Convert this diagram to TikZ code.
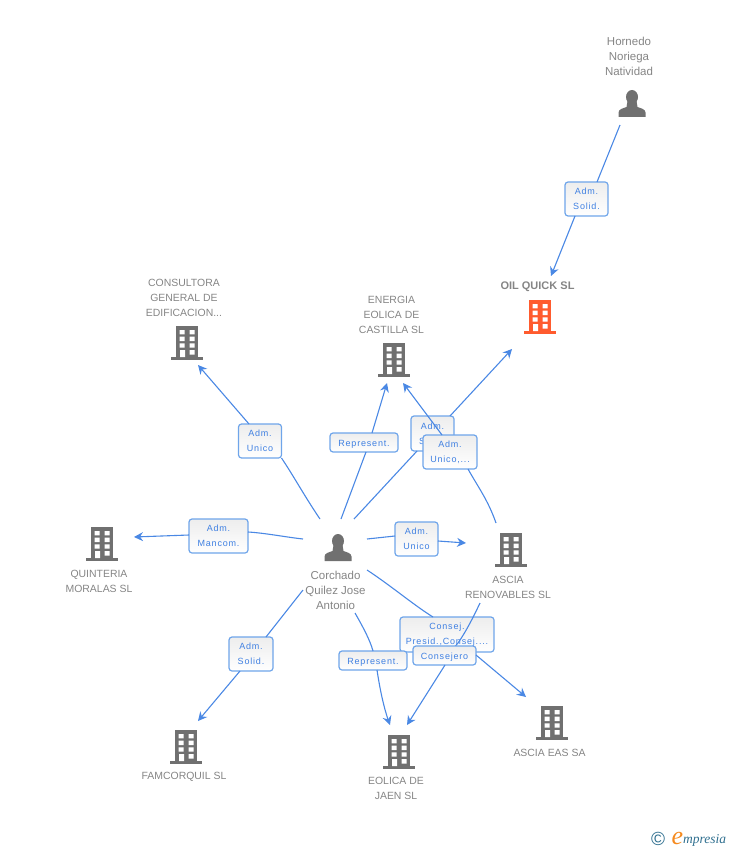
\documentclass[tikz,border=0pt]{standalone}
\usepackage{fontspec}
\setmainfont{Liberation Sans}
\newfontfamily\lblfont[LetterSpace=9]{Liberation Sans}
\newfontfamily\namefont{Liberation Sans}
\newfontfamily\logofont{Liberation Serif}
\usetikzlibrary{arrows.meta}
\definecolor{edgeblue}{HTML}{4A88E4}
\definecolor{boxblue}{HTML}{6FA5EA}
\definecolor{lbltext}{HTML}{3F80E2}
\definecolor{nametext}{HTML}{858585}
\definecolor{iconGrey}{HTML}{707070}
\definecolor{iconRed}{HTML}{FF5B2E}
\definecolor{logoTeal}{HTML}{2F6F8F}
\definecolor{logoOrange}{HTML}{F58A1F}
\tikzset{
  conn/.style={draw=edgeblue,line width=1.1pt},
  connarrow/.style={conn,-{Stealth[length=9pt,width=9pt,inset=3pt]}},
  lbl/.style={draw=boxblue,line width=1.2pt,rounded corners=3pt,top color=white!93!black,bottom color=white,
    text=lbltext,font=\lblfont\fontsize{9}{15}\selectfont,align=center,inner sep=0pt,outer sep=0pt,
    execute at begin node={\rule{0pt}{9pt}}},
  entname/.style={text=nametext,font=\namefont\fontsize{10.45}{15}\selectfont,align=center,inner sep=0pt},
  mixname/.style={text=nametext,font=\namefont\fontsize{11.5}{15}\selectfont,align=center,inner sep=0pt},
  pics/building/.style={code={
    \fill[#1] (-11,-34) rectangle (11,-3);
    \fill[#1] (-16,-3) rectangle (16,0);
    \fill[white] (-7.3,-30) rectangle (-2.3,-25.7) (2.7,-30) rectangle (7.7,-25.7)
      (-7.3,-23.5) rectangle (-2.3,-19) (2.7,-23.5) rectangle (7.7,-19)
      (-7.3,-16.7) rectangle (-2.3,-12.3) (2.7,-16.7) rectangle (7.7,-12.3)
      (2.7,-10) rectangle (7.7,-5.5) (-7,-10) rectangle (-2,-3);
  }},
  pics/person/.style={code={
    \fill[iconGrey] (0,-20) ellipse (6 and 7);
    \fill[iconGrey] (-13.5,0) -- (-13.5,-4.5) .. controls (-13.5,-8) and (-8,-9) .. (-5.5,-10)
      -- (-4.5,-16) -- (4.5,-16) -- (5.5,-10) .. controls (8,-9) and (13.5,-8) .. (13.5,-4.5) -- (13.5,0) -- cycle;
  }}
}
\begin{document}
\begin{tikzpicture}[x=1pt,y=-1pt]
\useasboundingbox (0,0) rectangle (728,850);
% icons
\pic (iHornedo) at (632,117) {person};
\pic (iCorchado) at (338,561) {person};
\pic (iOil) at (540,334) {building=iconRed};
\pic (iConsultora) at (187,360) {building=iconGrey};
\pic (iEnergia) at (394,377) {building=iconGrey};
\pic (iQuinteria) at (102,561) {building=iconGrey};
\pic (iAscia) at (511,567) {building=iconGrey};
\pic (iFamcorquil) at (186,764) {building=iconGrey};
\pic (iEolica) at (399,769) {building=iconGrey};
\pic (iEas) at (552,740) {building=iconGrey};
% names
\node[mixname] (nHornedo) at (629,56) {Hornedo\\Noriega\\Natividad};
\node[entname,font=\namefont\bfseries\fontsize{11}{15}\selectfont] (nOil) at (537.5,287) {OIL QUICK SL};
\node[entname] (nConsultora) at (184,297.5) {CONSULTORA\\GENERAL DE\\EDIFICACION...};
\node[entname] (nEnergia) at (391.5,314.5) {ENERGIA\\EOLICA DE\\CASTILLA SL};
\node[entname] (nQuinteria) at (99,581) {QUINTERIA\\MORALAS SL};
\node[mixname] (nCorchado) at (335.5,590) {Corchado\\Quilez Jose\\Antonio};
\node[entname] (nAscia) at (508,587) {ASCIA\\RENOVABLES SL};
\node[entname] (nFamcorquil) at (184,776.5) {FAMCORQUIL SL};
\node[entname] (nEolica) at (396,788.5) {EOLICA DE\\JAEN SL};
\node[entname] (nEas) at (549.5,752.5) {ASCIA EAS SA};
% free ends
\coordinate (sHornedo) at (620,125);
\coordinate (tOilTop) at (551,276);
\coordinate (cOil) at (354,519);
\coordinate (tOil) at (512,349);
\coordinate (cRepE) at (341,519);
\coordinate (tEnergiaA) at (387,383);
\coordinate (sAsciaE) at (496,523);
\coordinate (tEnergiaB) at (403,383);
\coordinate (cCons) at (320,519);
\coordinate (tCons) at (198,365);
\coordinate (cQuin) at (303,539);
\coordinate (tQuin) at (134,537);
\coordinate (cAsc) at (367,539);
\coordinate (tAsc) at (466,543);
\coordinate (cFam) at (303,590);
\coordinate (tFam) at (198,721);
\coordinate (cRepJ) at (355,613);
\coordinate (tEolA) at (390,725);
\coordinate (tEolB) at (407,725);
\coordinate (cEas) at (367,570);
\coordinate (tEas) at (526,697);
\coordinate (sAsciaJ) at (480,603);
% Hornedo -> Oil
\node[lbl,minimum width=43pt,minimum height=34pt] (lHornedo) at (586.5,199) {Adm.\\Solid.};
\draw[conn] (sHornedo) -- (lHornedo.north -| 597,0);
\draw[connarrow] (lHornedo.south -| 575,0) -- (tOilTop);
% Consultora
\node[lbl,minimum width=43pt,minimum height=34pt] (lCons) at (260,441) {Adm.\\Unico};
\draw[conn] (cCons) .. controls (305,497) and (293,475) .. (lCons.south east);
\draw[connarrow] (lCons.north -| 249,0) -- (tCons);
% Represent to Energia
\node[lbl,minimum width=68pt,minimum height=19pt] (lRepE) at (364,442.5) {Represent.};
\draw[conn] (cRepE) -- (lRepE.south -| 366,0);
\draw[connarrow] (lRepE.north -| 372,0) -- (tEnergiaA);
% Corchado -> Oil
\node[lbl,minimum width=43pt,minimum height=35pt] (lOil) at (432.5,433.5) {Adm.\\Solid.};
\draw[conn] (cOil) -- (lOil.south -| 417,0);
\draw[connarrow] (lOil.north -| 450,0) -- (tOil);
% Ascia -> Energia
\node[lbl,minimum width=54pt,minimum height=34pt] (lAsciaE) at (450,452) {Adm.\\Unico,...};
\draw[conn] (sAsciaE) .. controls (488,500) and (478,487) .. (lAsciaE.south -| 468,0);
\draw[connarrow] (lAsciaE.north -| 442,0) -- (tEnergiaB);
% Quinteria
\node[lbl,minimum width=59pt,minimum height=34pt] (lQuin) at (218.5,536) {Adm.\\Mancom.};
\draw[conn] (cQuin) .. controls (285,537) and (265,533) .. (lQuin.east |- 0,532);
\draw[connarrow] (lQuin.west |- 0,535) -- (tQuin);
% Ascia
\node[lbl,minimum width=43pt,minimum height=34pt] (lAsc) at (416.5,539) {Adm.\\Unico};
\draw[conn] (cAsc) -- (lAsc.west |- 0,536);
\draw[connarrow] (lAsc.east |- 0,541) -- (tAsc);
% Famcorquil
\node[lbl,minimum width=44pt,minimum height=34pt] (lFam) at (251,654) {Adm.\\Solid.};
\draw[conn] (cFam) -- (lFam.north -| 266,0);
\draw[connarrow] (lFam.south -| 240,0) -- (tFam);
% Eas
\node[lbl,minimum width=94pt,minimum height=35pt] (lEas) at (447,634.5) {Consej.\\Presid.,Consej....};
\draw[conn] (cEas) .. controls (390,585) and (415,606) .. (lEas.north -| 433,0);
% Ascia -> Eolica crosses the upper box
\coordinate (mJ) at (458,643);
\draw[conn] (sAsciaJ) .. controls (472,620) and (465,633) .. (mJ) -- (452,650);
% Represent to Jaen
\node[lbl,minimum width=68pt,minimum height=19pt] (lRepJ) at (373,660.5) {Represent.};
\draw[conn] (cRepJ) .. controls (363,627) and (370,640) .. (lRepJ.north);
\draw[connarrow] (lRepJ.south -| 377,0) .. controls (380,690) and (384,708) .. (tEolA);
% Consejero
\node[lbl,minimum width=63pt,minimum height=19pt] (lConsj) at (444.5,655.5) {Consejero};
\draw[connarrow] (lConsj.south -| 445,0) -- (tEolB);
\draw[connarrow] (lConsj.east |- 0,655) -- (tEas);
% logo
\node[inner sep=0pt,text=logoTeal,font=\namefont\fontsize{19}{19}\selectfont] (lgC) at (658,839) {©};
\node[inner sep=0pt,text=logoOrange,font=\logofont\itshape\fontsize{26}{26}\selectfont] (lgE) at (677.5,838.5) {e};
\node[inner sep=0pt,anchor=base west,text=logoTeal,font=\logofont\itshape\fontsize{13.5}{14}\selectfont] (lgM) at (683,843) {mpresia};
\end{tikzpicture}
\end{document}
